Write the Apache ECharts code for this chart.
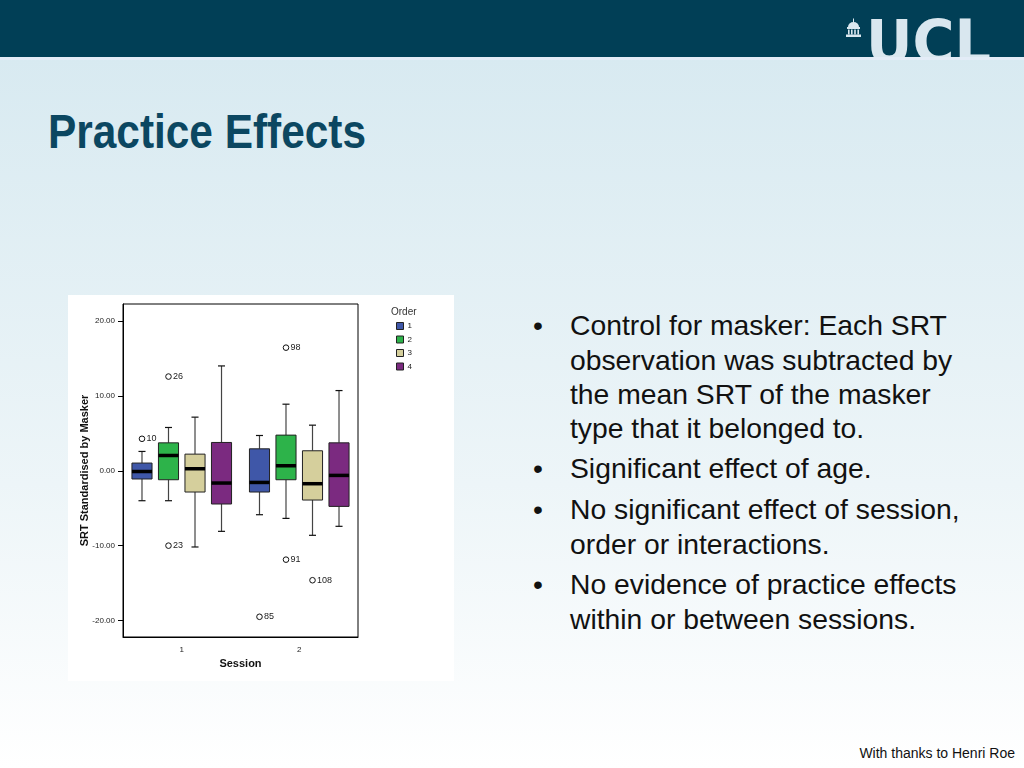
<!DOCTYPE html>
<html><head><meta charset="utf-8">
<script src="https://cdn.jsdelivr.net/npm/echarts@6/dist/echarts.min.js"></script>
<style>
html,body{margin:0;padding:0;width:1024px;height:768px;overflow:hidden;background:#fff}
#slide{position:absolute;left:0;top:0}
#chart{position:absolute;left:68px;top:295px;width:386px;height:386px;background:#fff}
.b{font-family:"Liberation Sans",Arial,sans-serif;font-size:28.3px;fill:#111}
</style></head><body>
<svg id="slide" width="1024" height="768" xmlns="http://www.w3.org/2000/svg">
<defs>
<linearGradient id="bg" x1="0" y1="0" x2="0" y2="1">
<stop offset="0" stop-color="#d8eaf1"/>
<stop offset="0.6" stop-color="#edf5f8"/>
<stop offset="1" stop-color="#ffffff"/>
</linearGradient>
<clipPath id="hdr"><rect x="0" y="0" width="1024" height="57"/></clipPath>
</defs>
<rect x="0" y="57" width="1024" height="711" fill="url(#bg)"/>
<rect x="0" y="0" width="1024" height="57" fill="#013f56"/>
<rect x="0" y="57" width="1024" height="3" fill="#e3ecf7"/>
<g clip-path="url(#hdr)" fill="#d9e7ef">
<text x="866" y="63" font-family="DejaVu Sans" font-weight="bold" font-size="60" textLength="125" lengthAdjust="spacingAndGlyphs">UCL</text>
<rect x="853" y="18.5" width="1" height="3.5"/>
<path d="M848,27 A5.5,5 0 0 1 859,27 Z"/>
<rect x="847" y="27" width="13" height="2"/>
<rect x="848" y="29.5" width="1.6" height="5"/>
<rect x="851" y="29.5" width="1.6" height="5"/>
<rect x="854.2" y="29.5" width="1.6" height="5"/>
<rect x="857.4" y="29.5" width="1.6" height="5"/>
<rect x="846" y="34.5" width="15" height="2.5"/>
</g>
<text x="48" y="148" font-family="Liberation Sans, Arial, sans-serif" font-weight="bold" font-size="49" fill="#0b4761" textLength="318" lengthAdjust="spacingAndGlyphs">Practice Effects</text>
<text class="b" x="538" y="335" text-anchor="middle">•</text>
<text class="b" x="570" y="335">Control for masker: Each SRT</text>
<text class="b" x="570" y="370">observation was subtracted by</text>
<text class="b" x="570" y="404">the mean SRT of the masker</text>
<text class="b" x="570" y="438">type that it belonged to.</text>
<text class="b" x="538" y="478" text-anchor="middle">•</text>
<text class="b" x="570" y="478">Significant effect of age.</text>
<text class="b" x="538" y="519" text-anchor="middle">•</text>
<text class="b" x="570" y="519">No significant effect of session,</text>
<text class="b" x="570" y="554">order or interactions.</text>
<text class="b" x="538" y="594" text-anchor="middle">•</text>
<text class="b" x="570" y="594">No evidence of practice effects</text>
<text class="b" x="570" y="629">within or between sessions.</text>
<text x="1015" y="758" text-anchor="end" font-family="Liberation Sans, Arial, sans-serif" font-size="14" fill="#111">With thanks to Henri Roe</text>
</svg>
<div id="chart"></div>
<script>
const sessions = ['1', '2'];
const orders = ['1', '2', '3', '4'];
const orderColors = ['#3f57a8', '#2db34a', '#d5cf9c', '#7b2a80'];
// [lower whisker, Q1, median, Q3, upper whisker] for session 1 and session 2
const order1Stats = [[-4.0, -1.1, -0.1, 1.03, 2.58], [-5.87, -2.84, -1.56, 2.93, 4.71]];
const order2Stats = [[-4.0, -1.2, 2.04, 3.73, 5.78], [-6.36, -1.2, 0.67, 4.76, 8.89]];
const order3Stats = [[-10.18, -2.84, 0.27, 2.22, 7.16], [-8.62, -3.91, -1.73, 2.67, 6.09]];
const order4Stats = [[-8.09, -4.44, -1.64, 3.78, 14.0], [-7.42, -4.76, -0.62, 3.73, 10.71]];
const outlierSession = [0, 0, 0, 1, 1, 1, 1];
const outlierOrder = [0, 1, 1, 0, 1, 1, 2];
const outlierValue = [4.27, 12.58, -10.0, -19.5, 16.44, -11.87, -14.62];
const outlierCase = ['10', '26', '23', '85', '98', '91', '108'];
const yTicks = [-20, -10, 0, 10, 20];

const FONT = '"Liberation Sans", Arial, sans-serif';
const STEP = 0.2256, BOXW = 0.171, CAPW = 0.06;
const allStats = [order1Stats, order2Stats, order3Stats, order4Stats];

function boxSeries(stats, k) {
  return {
    name: orders[k],
    type: 'custom',
    z: 3,
    itemStyle: { color: orderColors[k] },
    encode: { x: 0, y: [1, 2, 3, 4, 5] },
    data: stats.map((s, i) => [i].concat(s)),
    renderItem: function (params, api) {
      const cat = api.value(0);
      const band = api.size([1, 0])[0];
      const off = (k - 1.5) * band * STEP;
      const half = band * BOXW / 2;
      const cap = band * CAPW / 2;
      const y = v => api.coord([cat, v])[1];
      const xc = api.coord([cat, 0])[0] + off;
      const yLow = y(api.value(1)), yQ1 = y(api.value(2)), yMed = y(api.value(3)), yQ3 = y(api.value(4)), yHigh = y(api.value(5));
      const ws = { stroke: '#444', lineWidth: 1.2 };
      const cs = { stroke: '#111', lineWidth: 1.2 };
      return {
        type: 'group',
        children: [
          { type: 'line', shape: { x1: xc, y1: yQ3, x2: xc, y2: yHigh }, style: ws },
          { type: 'line', shape: { x1: xc, y1: yQ1, x2: xc, y2: yLow }, style: ws },
          { type: 'line', shape: { x1: xc - cap, y1: yHigh, x2: xc + cap, y2: yHigh }, style: cs },
          { type: 'line', shape: { x1: xc - cap, y1: yLow, x2: xc + cap, y2: yLow }, style: cs },
          { type: 'rect', shape: { x: xc - half, y: yQ3, width: 2 * half, height: yQ1 - yQ3 }, style: { fill: orderColors[k], stroke: '#222', lineWidth: 1 } },
          { type: 'line', shape: { x1: xc - half, y1: yMed, x2: xc + half, y2: yMed }, style: { stroke: '#000', lineWidth: 3.5 } }
        ]
      };
    }
  };
}

const series = allStats.map(boxSeries);
series.push({
  name: 'outliers',
  type: 'custom',
  z: 4,
  encode: { x: 0, y: 1 },
  data: outlierValue.map((v, i) => [outlierSession[i], v, outlierOrder[i]]),
  renderItem: function (params, api) {
    const cat = api.value(0);
    const k = api.value(2);
    const band = api.size([1, 0])[0];
    const p = api.coord([cat, api.value(1)]);
    const x = p[0] + (k - 1.5) * band * STEP;
    return {
      type: 'group',
      children: [
        { type: 'circle', shape: { cx: x, cy: p[1], r: 2.8 }, style: { fill: '#fff', stroke: '#111', lineWidth: 1 } },
        { type: 'text', style: { x: x + 4.5, y: p[1], text: outlierCase[params.dataIndex], fill: '#222', fontSize: 9, fontFamily: FONT, align: 'left', verticalAlign: 'middle' } }
      ]
    };
  }
});

const chart = echarts.init(document.getElementById('chart'));
chart.setOption({
  animation: false,
  backgroundColor: '#fff',
  textStyle: { fontFamily: FONT },
  grid: { left: 55, top: 9, width: 235, height: 333, show: true, borderColor: '#000', borderWidth: 1, backgroundColor: '#fff', containLabel: false, outerBoundsMode: 'none' },
  xAxis: {
    type: 'category',
    data: sessions,
    boundaryGap: true,
    name: 'Session',
    nameLocation: 'middle',
    nameGap: 21,
    nameMoveOverlap: false,
    nameTextStyle: { fontSize: 11, fontWeight: 'bold', color: '#111', fontFamily: FONT },
    axisLine: { onZero: false, lineStyle: { color: '#000' } },
    axisTick: { alignWithLabel: true, length: 5, lineStyle: { color: '#000' } },
    axisLabel: { fontSize: 8, color: '#222', margin: 9 },
    splitLine: { show: false }
  },
  yAxis: {
    type: 'value',
    min: -22.2,
    max: 22.27,
    name: 'SRT Standardised by Masker',
    nameLocation: 'middle',
    nameRotate: 90,
    nameGap: 33,
    nameMoveOverlap: false,
    nameTextStyle: { fontSize: 11, fontWeight: 'bold', color: '#111', fontFamily: FONT },
    axisLine: { show: true, onZero: false, lineStyle: { color: '#000' } },
    axisTick: { show: true, length: 5, customValues: yTicks, lineStyle: { color: '#000' } },
    axisLabel: { fontSize: 8, color: '#222', margin: 8, customValues: yTicks, formatter: v => v.toFixed(2) },
    splitLine: { show: false }
  },
  legend: {
    data: orders,
    orient: 'vertical',
    left: 328,
    top: 27,
    padding: 0,
    itemWidth: 7,
    itemHeight: 7,
    itemGap: 5.5,
    icon: 'rect',
    selectedMode: false,
    itemStyle: { borderColor: '#222', borderWidth: 1 },
    textStyle: { fontSize: 8, color: '#222', fontFamily: FONT, padding: [0, 0, 0, -1] }
  },
  graphic: [
    { type: 'text', left: 323, top: 12, style: { text: 'Order', fontSize: 10, fill: '#333', fontFamily: FONT } }
  ],
  series: series
});
</script>
</body></html>
